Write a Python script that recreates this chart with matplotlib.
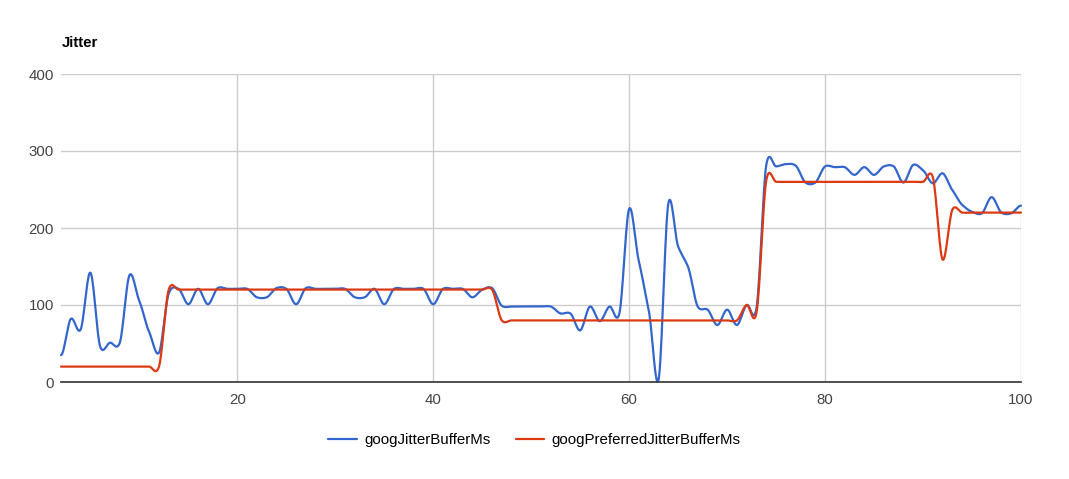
import numpy as np
import matplotlib
matplotlib.use("Agg")
import matplotlib.pyplot as plt

plt.rcParams['font.family'] = ['Liberation Sans', 'DejaVu Sans']

# sample index, 2..100
samples = list(range(2, 101))

jitter_buffer = [
    35, 82, 68, 142, 46, 51, 51, 139, 105, 65,          # 2-11
    38, 115, 121, 101, 121, 101, 122, 121, 121, 121,    # 12-21
    110, 110, 122, 121, 101, 122, 121, 121, 121, 121,   # 22-31
    110, 110, 121, 101, 121, 121, 121, 121, 101, 121,   # 32-41
    121, 121, 110, 120, 122, 99, 98, 98, 98, 98,        # 42-51
    98, 89, 89, 67, 98, 79, 98, 89, 225, 156,           # 52-61
    93, 3, 232, 176, 150, 98, 94, 74, 94, 74,           # 62-71
    100, 96, 282, 280, 283, 281, 259, 259, 280, 279,    # 72-81
    279, 269, 279, 269, 280, 280, 259, 282, 275, 258,   # 82-91
    271, 249, 230, 221, 219, 240, 220, 219, 229,        # 92-100
]

preferred_buffer = (
    [20] * 11            # 2-12
    + [120] * 34         # 13-46
    + [80] * 25          # 47-71
    + [100, 90, 262]     # 72-74
    + [260] * 16         # 75-90
    + [266, 159, 224]    # 91-93
    + [220] * 7          # 94-100
)

series_names = ["googJitterBufferMs", "googPreferredJitterBufferMs"]
series_colors = ["#3366cc", "#dc3912"]


def smooth(x, y, n=16, tension=0.8):
    # cardinal spline through the points, like the chart's curved lines
    x = np.asarray(x, float)
    y = np.asarray(y, float)
    m = np.zeros_like(y)
    m[1:-1] = tension * (y[2:] - y[:-2]) / (x[2:] - x[:-2])
    xs, ys = [], []
    for i in range(len(x) - 1):
        t = np.linspace(0, 1, n, endpoint=False)
        h = x[i + 1] - x[i]
        h00 = 2 * t**3 - 3 * t**2 + 1
        h10 = t**3 - 2 * t**2 + t
        h01 = -2 * t**3 + 3 * t**2
        h11 = t**3 - t**2
        xs.append(x[i] + t * h)
        ys.append(h00 * y[i] + h10 * h * m[i] + h01 * y[i + 1] + h11 * h * m[i + 1])
    xs.append([x[-1]])
    ys.append([y[-1]])
    return np.concatenate(xs), np.concatenate(ys)


fig = plt.figure(figsize=(10.69, 4.79), dpi=100)
ax = fig.add_axes([61 / 1069, 97 / 479, 960 / 1069, 308 / 479])

for vals, name, col in zip([jitter_buffer, preferred_buffer], series_names, series_colors):
    sx, sy = smooth(samples, vals)
    ax.plot(sx, sy, color=col, lw=1.6, label=name, solid_capstyle="round", clip_on=False)

ax.set_xlim(2, 100)
ax.set_ylim(0, 400)
ax.set_xticks([20, 40, 60, 80, 100])
ax.set_yticks([0, 100, 200, 300, 400])
ax.grid(True, color="#cccccc", lw=1)
ax.set_axisbelow(True)
for s in ["top", "right", "left"]:
    ax.spines[s].set_visible(False)
ax.spines["bottom"].set_color("#333333")
ax.spines["bottom"].set_linewidth(1.2)
ax.tick_params(length=0, labelsize=10.8, labelcolor="#444444")
ax.tick_params(axis="x", pad=8)
ax.tick_params(axis="y", pad=5)

fig.text(62 / 1069, 1 - 43 / 479, "Jitter", fontsize=10.8, fontweight="bold", va="center")

fig.legend(loc="center", bbox_to_anchor=(0.5, 1 - 440 / 479), ncol=2, frameon=False,
           fontsize=10.8, handlelength=1.9, handletextpad=0.5, columnspacing=1.7)

fig.savefig("out.png", dpi=100)
